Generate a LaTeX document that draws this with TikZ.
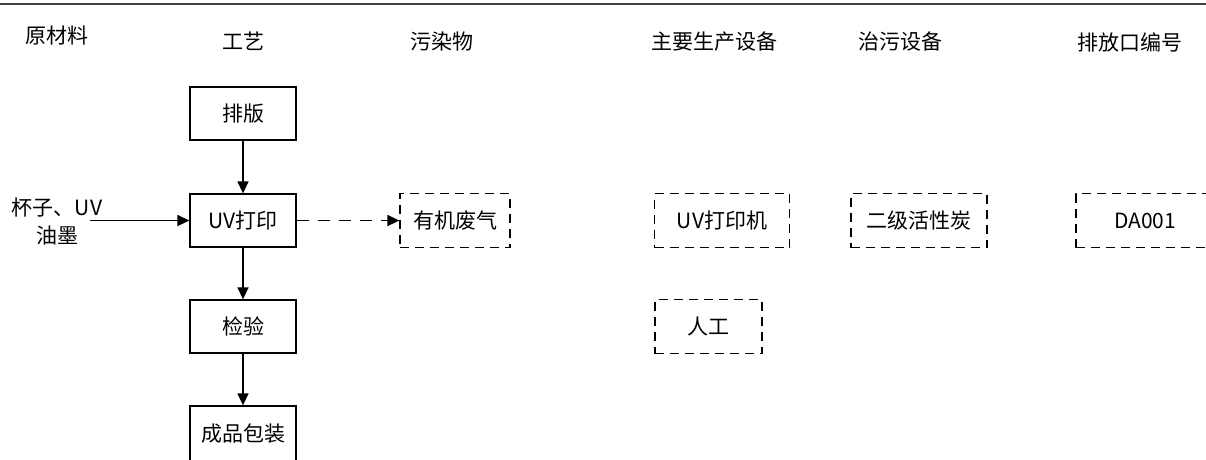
\documentclass[tikz,border=0pt]{standalone}
\usepackage{fontspec}
\setmainfont{Noto Sans CJK SC}
\usetikzlibrary{arrows.meta}
\begin{document}
\begin{tikzpicture}[x=1pt,y=-1pt,
  every node/.style={font=\fontsize{21}{28}\selectfont, inner sep=0pt},
  solidbox/.style={draw, line width=1.3pt, minimum width=106pt, minimum height=53pt},
  dashbox/.style={draw, line width=1.3pt, dash pattern=on 9pt off 6pt},
  arr/.style={-{Triangle[length=12pt,width=11pt]}, line width=1.5pt},
  hdr/.style={}]
\useasboundingbox (0,0) rectangle (1206,459);
\begin{scope}
\clip (0,0) rectangle (1206,459);
\draw[line width=2pt, black!75] (0,4) -- (1206,4);
% headers
\node[hdr] (h1) at (57,36) {原材料};
\node[hdr] (h2) at (243,41) {工艺};
\node[hdr] (h3) at (442,42) {污染物};
\node[hdr] (h4) at (714,42) {主要生产设备};
\node[hdr] (h5) at (900,42) {治污设备};
\node[hdr] (h6) at (1130,42) {排放口编号};
% process boxes
\node[solidbox] (b1) at (243,113.5) {排版};
\node[solidbox] (b2) at (243,220.5) {UV打印};
\node[solidbox] (b3) at (243,326.5) {检验};
\node[solidbox, minimum height=60pt, text depth=6pt] (b4) at (243,436) {成品包装};
% input
\node[align=center] (in) at (57,221) {杯子、UV\\油墨};
\coordinate (inS) at (90,220.5);
% dashed boxes
\node[dashbox, minimum width=110pt, minimum height=54pt] (p1) at (455,220.5) {有机废气};
\node[dashbox, minimum width=135pt, minimum height=54pt] (e1) at (722,220.5) {UV打印机};
\node[dashbox, minimum width=107pt, minimum height=54pt] (e2) at (708.5,326.5) {人工};
\node[dashbox, minimum width=136pt, minimum height=54pt] (t1) at (919,220.5) {二级活性炭};
\node[dashbox, minimum width=138pt, minimum height=54pt] (o1) at (1145,220.5) {DA001};
% arrows
\draw[arr] (b1) -- (b2);
\draw[arr] (b2) -- (b3);
\draw[arr] (b3) -- (b4);
\draw[arr] (inS) -- (b2.west);
\draw[arr, dash pattern=on 12pt off 9pt] (b2.east) -- (p1.west);
\end{scope}
\end{tikzpicture}
\end{document}
